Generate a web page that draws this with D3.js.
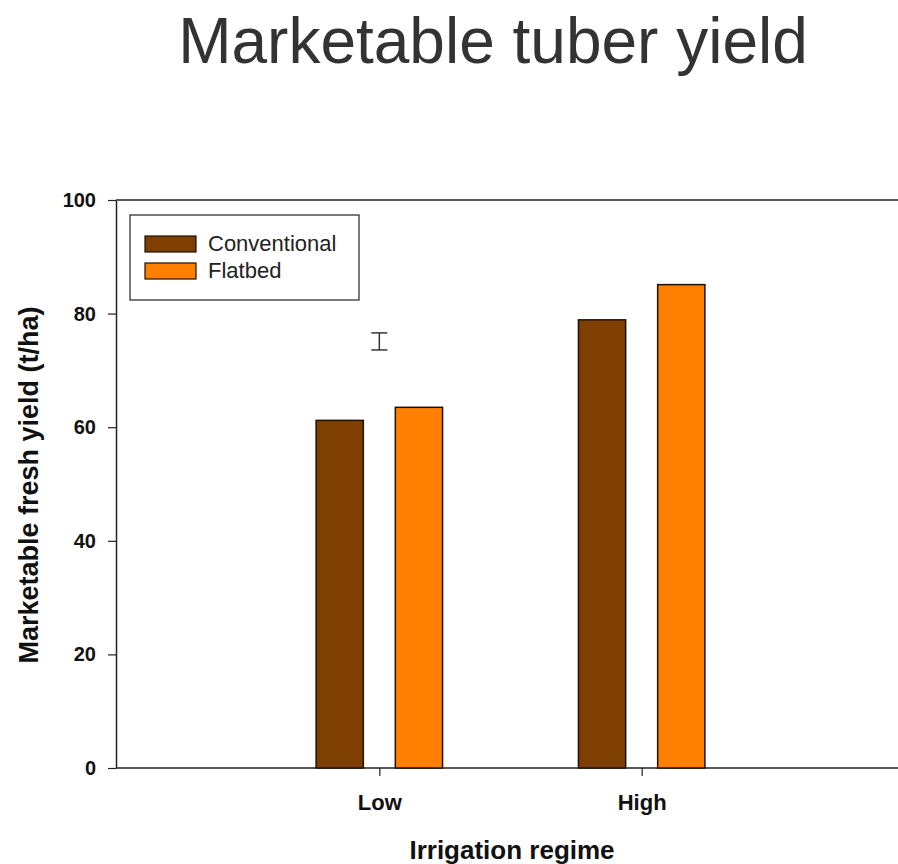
<!DOCTYPE html>
<html>
<head>
<meta charset="utf-8">
<script src="https://cdn.jsdelivr.net/npm/d3@7"></script>
<style>
  html, body { margin: 0; padding: 0; background: #fff; overflow: hidden; }
  text { font-family: Arial, "Liberation Sans", sans-serif; }
</style>
</head>
<body>
<div id="chart"></div>
<script>
// data
const categories = ['Low', 'High'];
const seriesNames = ['Conventional', 'Flatbed'];
const conventional = [61.2, 78.9];
const flatbed = [63.5, 85.1];
const yTicks = [0, 20, 40, 60, 80, 100];
// LSD bar shown above the Low group
const lsdCenter = 75.1;
const lsdHalf = 1.5;

const width = 898;
const height = 864;
const colors = ['#7f3f00', '#ff8000'];

const svg = d3.select('#chart')
  .append('svg')
  .attr('width', width)
  .attr('height', height);

// plot area (right side runs past the image edge like in the original)
const plotLeft = 116, plotRight = 904, plotTop = 200, plotBottom = 768;

const x = d3.scaleLinear().domain([0, categories.length + 1]).range([plotLeft + 1, plotRight]);
const y = d3.scaleLinear().domain([0, 100]).range([plotBottom, plotTop]);

const offset = 0.151; // bar centre offset from category, in category units
const barW = x(0.18) - x(0);

// frame: top line + axes
svg.append('line')
  .attr('x1', plotLeft).attr('x2', plotRight)
  .attr('y1', plotTop).attr('y2', plotTop)
  .attr('stroke', '#222').attr('stroke-width', 1.5);

const yAxis = svg.append('g')
  .attr('transform', `translate(${plotLeft},0)`)
  .call(d3.axisLeft(y).tickValues(yTicks).tickSize(8).tickPadding(12).tickSizeOuter(0));

const xAxis = svg.append('g')
  .attr('transform', `translate(0,${plotBottom})`)
  .call(d3.axisBottom(x).tickValues(categories.map((c, i) => i + 1))
    .tickFormat((d) => categories[d - 1]).tickSize(8).tickPadding(18).tickSizeOuter(0));

[yAxis, xAxis].forEach((ax) => {
  ax.select('.domain').attr('stroke', '#222').attr('stroke-width', 1.5);
  ax.selectAll('.tick line').attr('stroke', '#222').attr('stroke-width', 1.2);
  ax.selectAll('.tick text')
    .attr('fill', '#111')
    .style('font-weight', 'bold')
    .style('font-family', 'Arial, "Liberation Sans", sans-serif');
});
yAxis.selectAll('.tick text').style('font-size', '20px');
xAxis.selectAll('.tick text').style('font-size', '22px');
// x axis line spans the whole plot width
xAxis.select('.domain').attr('d', `M${plotLeft},0H${plotRight}`);

// bars
const series = [conventional, flatbed];
series.forEach((vals, s) => {
  svg.append('g')
    .selectAll('rect')
    .data(vals)
    .enter()
    .append('rect')
    .attr('x', (d, i) => x(i + 1 + (s === 0 ? -offset : offset)) - barW / 2)
    .attr('y', (d) => y(d))
    .attr('width', barW)
    .attr('height', (d) => y(0) - y(d))
    .attr('fill', colors[s])
    .attr('stroke', '#1a1208')
    .attr('stroke-width', 1.5);
});

// LSD error bar
const ex = x(1);
const eb = svg.append('g').attr('stroke', '#333').attr('stroke-width', 1.5);
eb.append('line').attr('x1', ex).attr('x2', ex)
  .attr('y1', y(lsdCenter + lsdHalf)).attr('y2', y(lsdCenter - lsdHalf));
[lsdCenter + lsdHalf, lsdCenter - lsdHalf].forEach((v) => {
  eb.append('line').attr('x1', ex - 8).attr('x2', ex + 8)
    .attr('y1', y(v)).attr('y2', y(v));
});

// legend
const legend = svg.append('g').attr('transform', 'translate(130,215)');
legend.append('rect')
  .attr('width', 229).attr('height', 85)
  .attr('fill', '#fff').attr('stroke', '#222').attr('stroke-width', 1.2);
seriesNames.forEach((name, i) => {
  legend.append('rect')
    .attr('x', 15).attr('y', 21 + i * 27)
    .attr('width', 51).attr('height', 16)
    .attr('fill', colors[i]).attr('stroke', '#1a1208').attr('stroke-width', 1.2);
  legend.append('text')
    .attr('x', 78).attr('y', 36 + i * 27)
    .attr('fill', '#222')
    .style('font-size', '22px')
    .text(name);
});

// titles
svg.append('text')
  .attr('x', 493).attr('y', 63)
  .attr('text-anchor', 'middle')
  .attr('fill', '#333')
  .style('font-size', '64px')
  .text('Marketable tuber yield');

svg.append('text')
  .attr('transform', `translate(38,${(plotTop + plotBottom) / 2 + 1}) rotate(-90)`)
  .attr('text-anchor', 'middle')
  .attr('fill', '#111')
  .style('font-size', '27px')
  .style('font-weight', 'bold')
  .text('Marketable fresh yield (t/ha)');

svg.append('text')
  .attr('x', 512).attr('y', 859)
  .attr('text-anchor', 'middle')
  .attr('fill', '#111')
  .style('font-size', '26px')
  .style('font-weight', 'bold')
  .text('Irrigation regime');
</script>
</body>
</html>
